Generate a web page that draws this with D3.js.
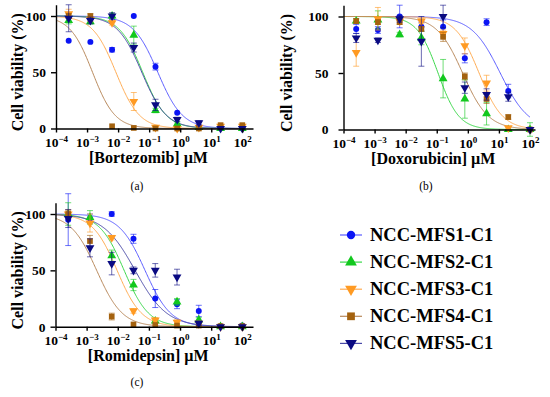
<!DOCTYPE html>
<html lang="en">
<head>
<meta charset="UTF-8">
<title>Cell viability</title>
<script src="https://cdn.jsdelivr.net/npm/d3@7"></script>
<style>
  body { margin: 0; background: #fff; }
  text { font-family: "Liberation Serif", "Times New Roman", serif; }
</style>
</head>
<body>
<svg width="550" height="397"></svg>
<script>
    // concentrations (uM), 5-fold dilutions
    const conc = [0.000256, 0.00128, 0.0064, 0.032, 0.16, 0.8, 4, 20, 100]
    const lines = ["NCC-MFS1-C1", "NCC-MFS2-C1", "NCC-MFS3-C1", "NCC-MFS4-C1", "NCC-MFS5-C1"]
    const colors = ["#0a14f5", "#12c81e", "#ff9a22", "#a4620f", "#0a0a82"]
    const curveColors = ["#5a5cff", "#3ad84a", "#ffac52", "#b8885a", "#4a4aa8"]
    const shapes = ["circle", "up", "down", "square", "down"]
    const xTicks = [-4, -3, -2, -1, 0, 1, 2]
    const yTicks = [0, 50, 100]

    // mean viability (%) per line
    const bortezomibMean = [
        [78, 77, 70, 100, 55, 14, 2, 0.5, 0],
        [96, 95, 100, 83, 16, 4, 1, 0, 0],
        [102, 97, 94, 24, 1, 0, 1, 2, 2],
        [100, 100, 2, 0.5, 0, 0, 0, 3, 3],
        [98, 96, 100, 72, 21, 8, 5, 0, 0]
    ]
    const bortezomibSD = [
        [0, 0, 2, 0, 3, 0, 0, 0, 0],
        [3, 2, 2, 8, 2, 2, 0, 0, 0],
        [4, 2, 2, 8, 0, 0, 0, 0, 0],
        [2, 2, 0, 0, 0, 0, 0, 0, 0],
        [12, 3, 3, 4, 5, 2, 2, 0, 0]
    ]
    const bortezomibFit = [[0.19, 1.1], [0.062, 1.15], [0.0085, 1.15], [0.0015, 1.2], [0.058, 1.1]]

    const doxorubicinMean = [
        [89, 88, 100, 91, 91, 63, 95, 34, 0],
        [96, 97, 84, 81, 45, 27, 14, 0, 0],
        [68, 98, 96, 96, 85, 74, 41, 1.5, 0],
        [96, 95, 95, 89, 82, 47, 27, 11, 0],
        [81, 79, 98, 78, 100, 37, 31, 29, 0]
    ]
    const doxorubicinSD = [
        [4, 3, 10, 4, 6, 4, 3, 6, 0],
        [2, 8, 2, 6, 17, 17, 10, 0, 6],
        [12, 10, 2, 2, 3, 7, 7, 0, 0],
        [2, 2, 2, 2, 4, 3, 4, 2, 0],
        [4, 2, 3, 22, 10, 5, 5, 4, 0]
    ]
    const doxorubicinFit = [[11, 0.95], [0.11, 1.3], [2.3, 1.15], [0.68, 1.05], null]

    const romidepsinMean = [
        [95, 96, 100, 78, 25, 20, 14, 0.5, 1],
        [100, 97, 63, 37, 5, 22, 6, 0, 0],
        [100, 92, 79, 14, 6, 4, 3, 0, 0],
        [100, 76, 9, 2, 1.5, 1, 1, 0.5, 0.5],
        [96, 70, 56, 50, 50, 44, 3, 0, 0]
    ]
    const romidepsinSD = [
        [23, 4, 2, 4, 8, 4, 5, 0, 0],
        [10, 6, 5, 5, 2, 3, 2, 0, 0],
        [4, 8, 2, 2, 2, 2, 2, 0, 0],
        [3, 5, 3, 0, 0, 0, 0, 0, 0],
        [8, 8, 10, 3, 6, 7, 2, 0, 0]
    ]
    const romidepsinFit = [[0.075, 1.05], [0.016, 1.1], [0.0095, 1.1], [0.0021, 1.05], [0.036, 0.85]]

    const panels = [
        {title: "[Bortezomib] \u00b5M", tag: "(a)", mean: bortezomibMean, sd: bortezomibSD, fit: bortezomibFit,
         x0: 56, x100: 242.3, xEnd: 253, y0: 128.5, y100: 16, tagX: 137, tagY: 190, yPad: 5, yTitle: 33},
        {title: "[Doxorubicin] \u00b5M", tag: "(b)", mean: doxorubicinMean, sd: doxorubicinSD, fit: doxorubicinFit,
         x0: 343.5, x100: 530, xEnd: 535, y0: 129.5, y100: 16.5, tagX: 426, tagY: 190, yPad: 10, yTitle: 52},
        {title: "[Romidepsin] \u00b5M", tag: "(c)", mean: romidepsinMean, sd: romidepsinSD, fit: romidepsinFit,
         x0: 55.5, x100: 242.3, xEnd: 253, y0: 326.7, y100: 214, tagX: 137, tagY: 386, yPad: 5, yTitle: 33}
    ]

    const svg = d3.select("svg")

    function marker(shape, size) {
        if (shape === "circle") return d3.symbol(d3.symbolCircle, size)()
        if (shape === "square") return d3.symbol(d3.symbolSquare, size)()
        return d3.symbol(d3.symbolTriangle, size)()
    }
    function markerRot(shape) {
        return shape === "down" ? " rotate(180)" : ""
    }
    const sizes = {circle: 28, square: 32, up: 34, down: 34}

    function drawPanel(p) {
        const g = svg.append("g")
        const span = (p.x100 - p.x0) / 6
        const x = d3.scaleLog()
            .domain([1e-4, Math.pow(10, 2 + (p.xEnd - p.x100) / span)])
            .range([p.x0, p.xEnd])
        const yEnd = p.y0 - (p.y0 - p.y100) * 1.1
        const y = d3.scaleLinear().domain([0, 110]).range([p.y0, yEnd])

        // curves from fitted IC50 / hill
        const logs = d3.range(-4, 2.001, 0.02)
        p.fit.forEach((f, i) => {
            if (!f) return
            const line = d3.line()
                .x(l => x(Math.pow(10, l)))
                .y(l => y(100 / (1 + Math.pow(Math.pow(10, l) / f[0], f[1]))))
            g.append("path")
                .attr("d", line(logs))
                .attr("fill", "none")
                .attr("stroke", curveColors[i])
                .attr("stroke-width", 1)
        })

        // error bars and points
        p.mean.forEach((row, i) => {
            const s = g.append("g")
            row.forEach((v, j) => {
                const e = p.sd[i][j]
                const cx = x(conc[j])
                if (e > 0) {
                    s.append("path")
                        .attr("d", `M${cx},${y(v - e)}V${y(v + e)}M${cx - 3},${y(v - e)}H${cx + 3}M${cx - 3},${y(v + e)}H${cx + 3}`)
                        .attr("stroke", colors[i])
                        .attr("stroke-opacity", 0.6)
                        .attr("stroke-width", 1)
                        .attr("fill", "none")
                }
                s.append("path")
                    .attr("d", marker(shapes[i], sizes[shapes[i]]))
                    .attr("transform", `translate(${cx},${y(v)})${markerRot(shapes[i])}`)
                    .attr("fill", colors[i])
            })
        })

        // axes
        const xAxis = g.append("g")
            .attr("transform", `translate(0,${p.y0})`)
            .call(d3.axisBottom(x).tickValues(xTicks.map(t => Math.pow(10, t))).tickSize(4).tickSizeOuter(0).tickFormat(""))
        xAxis.selectAll(".tick text").each(function(d) {
            const t = d3.select(this)
                .attr("font-size", 13.5).attr("font-weight", "bold").attr("fill", "#000")
                .attr("dy", "0.82em")
            const k = Math.round(Math.log10(d))
            t.text("10")
            t.append("tspan").attr("font-size", 9).attr("dy", "-0.5em")
                .text(k < 0 ? "\u2212" + (-k) : k)
        })
        const yAxis = g.append("g")
            .attr("transform", `translate(${p.x0},0)`)
            .call(d3.axisLeft(y).tickValues(yTicks).tickSize(5).tickSizeOuter(0).tickPadding(p.yPad))
        yAxis.selectAll(".tick text")
            .attr("font-size", 13.5).attr("font-weight", "bold").attr("fill", "#000")
        g.selectAll(".domain, .tick line").attr("stroke", "#000").attr("stroke-width", 1.4)
        g.selectAll("text").attr("font-family", "Liberation Serif")

        g.append("text")
            .attr("x", (p.x0 + p.xEnd) / 2 - 6)
            .attr("y", p.y0 + 34)
            .attr("text-anchor", "middle")
            .attr("font-size", 16).attr("font-weight", "bold")
            .text(p.title)
        g.append("text")
            .attr("transform", `translate(${p.x0 - p.yTitle},${(p.y0 + p.y100) / 2}) rotate(-90)`)
            .attr("text-anchor", "middle")
            .attr("font-size", 16).attr("font-weight", "bold")
            .text("Cell viability (%)")
        g.append("text")
            .attr("x", p.tagX).attr("y", p.tagY)
            .attr("text-anchor", "middle")
            .attr("font-size", 11.5)
            .text(p.tag)
    }

    panels.forEach(drawPanel)

    // legend
    const legend = svg.append("g").attr("transform", "translate(340,235)")
    lines.forEach((name, i) => {
        const r = legend.append("g").attr("transform", `translate(0,${i * 27.1})`)
        r.append("line").attr("x1", 0).attr("x2", 22).attr("stroke", curveColors[i]).attr("stroke-width", 1.2)
        r.append("path")
            .attr("d", marker(shapes[i], shapes[i] === "circle" ? 55 : 60))
            .attr("transform", `translate(11,0)${markerRot(shapes[i])}`)
            .attr("fill", colors[i])
        r.append("text")
            .attr("x", 30).attr("y", 6)
            .attr("font-size", 18.5).attr("font-weight", "bold")
            .text(name)
    })
</script>
</body>
</html>
